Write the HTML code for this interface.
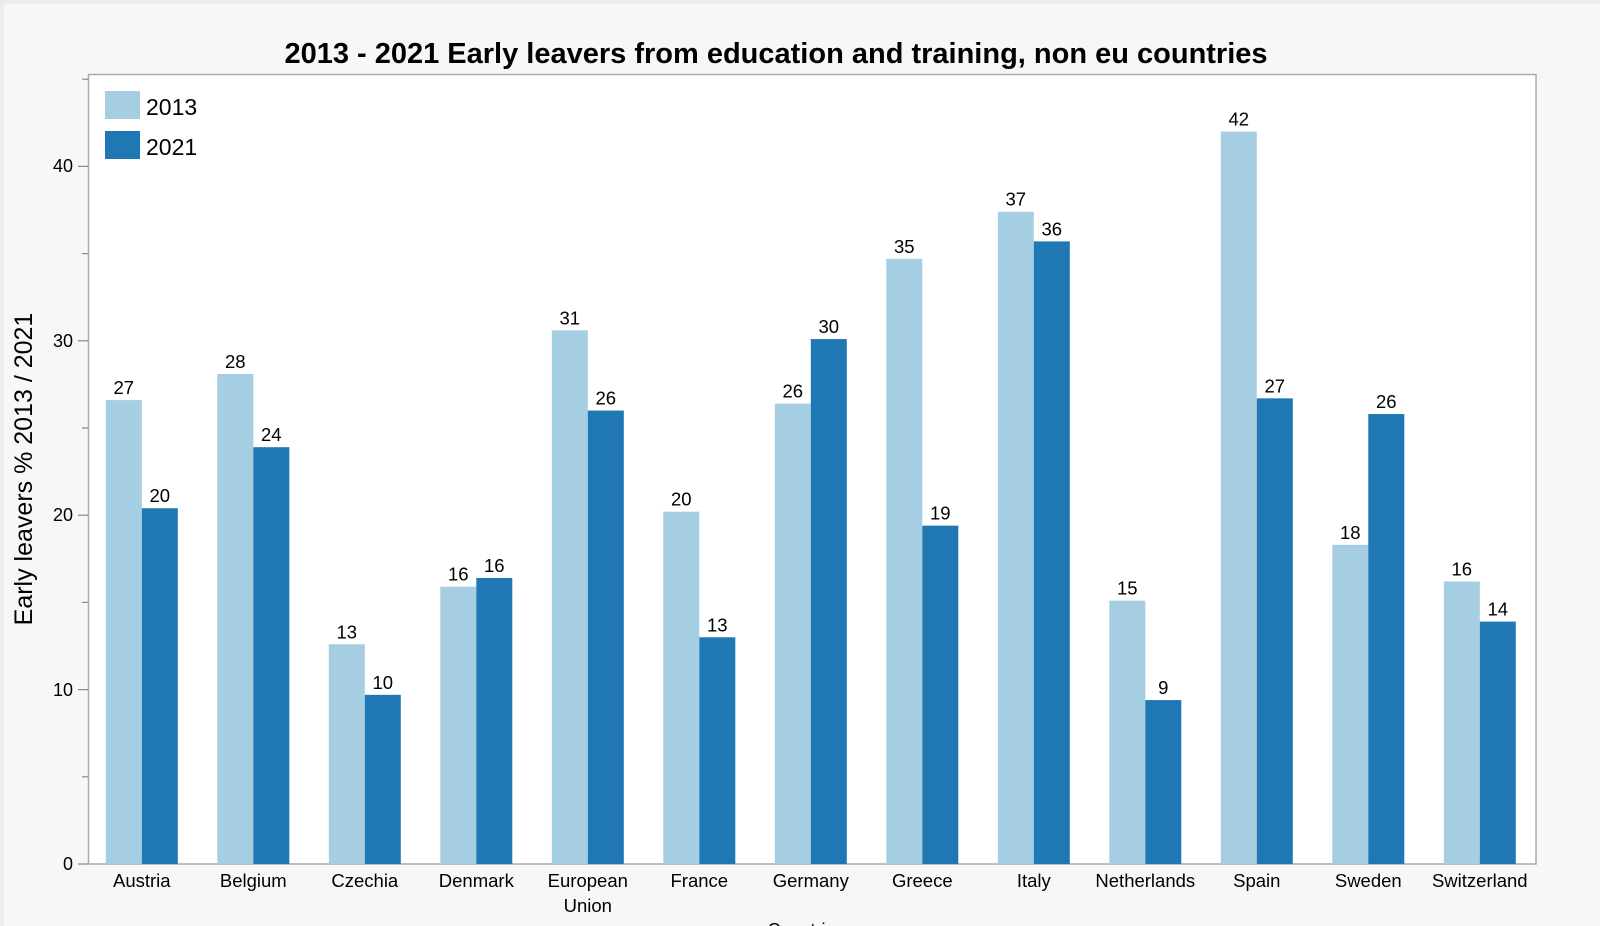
<!DOCTYPE html>
<html><head><meta charset="utf-8"><style>
html,body{margin:0;padding:0;background:#fff}
svg{display:block;font-family:"Liberation Sans",Arial,sans-serif}
</style></head><body>
<svg width="1600" height="926" viewBox="0 0 1600 926" xmlns="http://www.w3.org/2000/svg">
<rect x="0" y="0" width="1600" height="926" fill="#ececec"/>
<rect x="4" y="4" width="1596" height="922" fill="#f7f7f7"/>
<text x="776" y="63" text-anchor="middle" font-size="29" font-weight="bold" fill="#000">2013 - 2021 Early leavers from education and training, non eu countries</text>
<rect x="88.5" y="74.5" width="1447.5" height="789.5" fill="#fff" stroke="#aaa" stroke-width="1.5"/>
<g stroke="#888" stroke-width="1.2">
<line x1="78" y1="864" x2="88" y2="864"/><line x1="82" y1="776.8" x2="88" y2="776.8"/>
<line x1="78" y1="689.6" x2="88" y2="689.6"/><line x1="82" y1="602.4" x2="88" y2="602.4"/>
<line x1="78" y1="515.2" x2="88" y2="515.2"/><line x1="82" y1="428" x2="88" y2="428"/>
<line x1="78" y1="340.8" x2="88" y2="340.8"/><line x1="82" y1="253.6" x2="88" y2="253.6"/>
<line x1="78" y1="166.4" x2="88" y2="166.4"/><line x1="82" y1="79.2" x2="88" y2="79.2"/>
</g>
<g font-size="18" text-anchor="end" fill="#000">
<text x="73" y="870">0</text><text x="73" y="696">10</text><text x="73" y="521">20</text><text x="73" y="347">30</text><text x="73" y="172">40</text>
</g>
<text transform="translate(32,469) rotate(-90)" text-anchor="middle" font-size="25" fill="#000">Early leavers % 2013 / 2021</text>
<rect x="105" y="91" width="35" height="28" fill="#a6cee3"/>
<text x="146" y="115" font-size="23">2013</text>
<rect x="105" y="131" width="35" height="28" fill="#1f78b4"/>
<text x="146" y="155" font-size="23">2021</text>
<g id="bars"></g>
<text x="806" y="936" text-anchor="middle" font-size="18">Countries</text>
</svg>
<script>
var d=[["Austria",26.6,20.4],["Belgium",28.1,23.9],["Czechia",12.6,9.7],["Denmark",15.9,16.4],["European|Union",30.6,26.0],["France",20.2,13.0],["Germany",26.4,30.1],["Greece",34.7,19.4],["Italy",37.4,35.7],["Netherlands",15.1,9.4],["Spain",42.0,26.7],["Sweden",18.3,25.8],["Switzerland",16.2,13.9]];
var g=document.getElementById("bars"),s="",k=17.44,w=36;
d.forEach(function(r,i){var c=141.8+111.5*i;
[[r[1],c-w,"#a6cee3"],[r[2],c,"#1f78b4"]].forEach(function(b){var h=b[0]*k,y=864-h;
s+='<rect x="'+b[1]+'" y="'+y+'" width="'+w+'" height="'+h+'" fill="'+b[2]+'"/>';
s+='<text x="'+(b[1]+w/2)+'" y="'+(y-6)+'" text-anchor="middle" font-size="18.5">'+Math.round(b[0])+'</text>';});
var L=r[0].split("|");L.forEach(function(t,j){s+='<text x="'+c+'" y="'+(887+j*25)+'" text-anchor="middle" font-size="18.5">'+t+'</text>';});
});
g.innerHTML=s;
</script>
</body></html>
